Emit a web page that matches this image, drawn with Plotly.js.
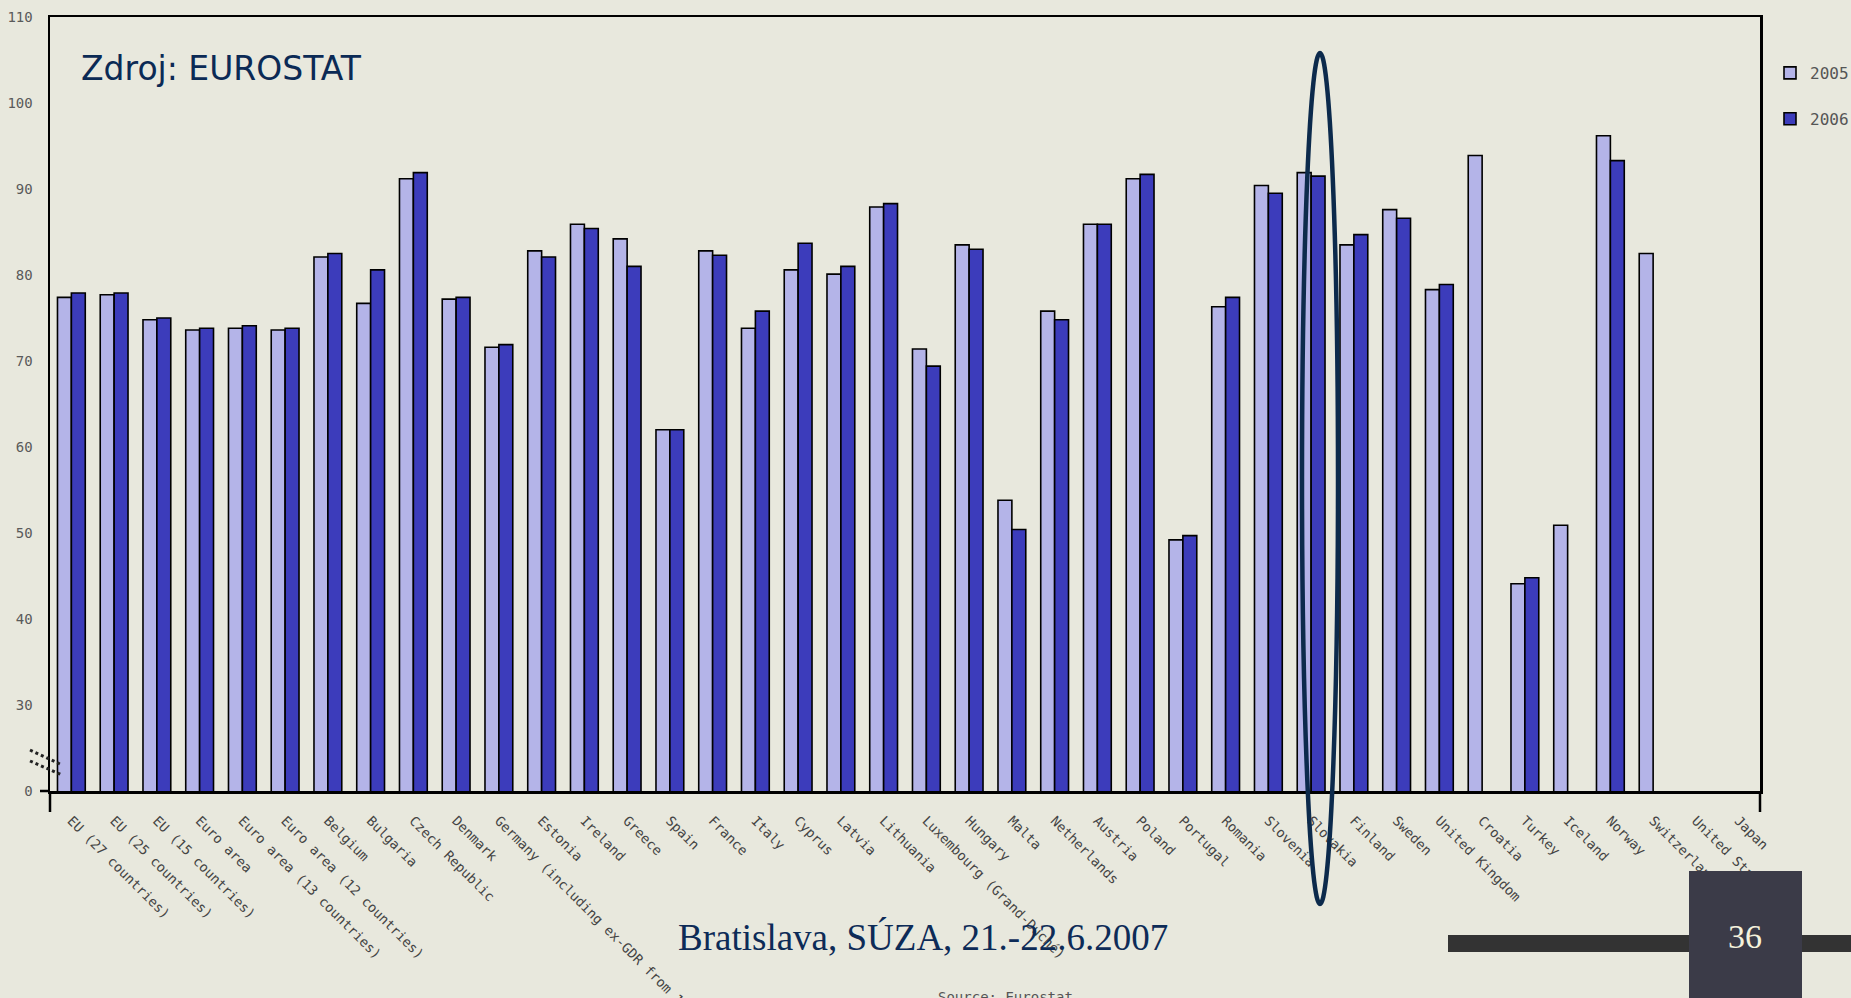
<!DOCTYPE html>
<html>
<head>
<meta charset="utf-8">
<script src="https://cdn.plot.ly/plotly-3.0.1.min.js"></script>
<style>
  html, body { margin: 0; padding: 0; background: #e8e8dd; overflow: hidden; }
  #chart { width: 1866px; height: 998px; }
</style>
</head>
<body>
<div id="chart"></div>
<script>
// ---- Data ----
const categories = [
  "EU (27 countries)", "EU (25 countries)", "EU (15 countries)", "Euro area",
  "Euro area (13 countries)", "Euro area (12 countries)", "Belgium", "Bulgaria",
  "Czech Republic", "Denmark", "Germany (including ex-GDR from 1991)", "Estonia",
  "Ireland", "Greece", "Spain", "France", "Italy", "Cyprus", "Latvia", "Lithuania",
  "Luxembourg (Grand-Duché)", "Hungary", "Malta", "Netherlands", "Austria", "Poland",
  "Portugal", "Romania", "Slovenia", "Slovakia", "Finland", "Sweden", "United Kingdom",
  "Croatia", "Turkey", "Iceland", "Norway", "Switzerland", "United States", "Japan"
];
const values2005 = [
  77.4, 77.7, 74.8, 73.6, 73.8, 73.6, 82.1, 76.7, 91.2, 77.2,
  71.6, 82.8, 85.9, 84.2, 62.0, 82.8, 73.8, 80.6, 80.1, 87.9,
  71.4, 83.5, 53.8, 75.8, 85.9, 91.2, 49.2, 76.3, 90.4, 91.9,
  83.5, 87.6, 78.3, 93.9, 44.1, 50.9, 96.2, 82.5, null, null
];
const values2006 = [
  77.9, 77.9, 75.0, 73.8, 74.1, 73.8, 82.5, 80.6, 91.9, 77.4,
  71.9, 82.1, 85.4, 81.0, 62.0, 82.3, 75.8, 83.7, 81.0, 88.3,
  69.4, 83.0, 50.4, 74.8, 85.9, 91.7, 49.7, 77.4, 89.5, 91.5,
  84.7, 86.6, 78.9, null, 44.8, null, 93.3, null, null, null
];
const seriesNames = ["2005", "2006"];
// broken y axis: the bottom tick stands for 0, the rest are real values
const yTickVals = [20, 30, 40, 50, 60, 70, 80, 90, 100, 110];
const yTickText = ["0", "30", "40", "50", "60", "70", "80", "90", "100", "110"];

// ---- Layout helpers (reference pixel -> paper) ----
// The captured frame is a little wider than the 1851px viewport, so the
// figure is laid out on that wider canvas with every x position scaled.
const CW = 1866;
const k = CW / 1851;
const W = CW, H = 998, L0 = 50, R0 = 1760, T = 17, B = 791;
const px = x => (x - L0) / (R0 - L0);
const py = y => (B - y) / (B - T);

const pixFont = "DejaVu Sans Mono, monospace";
const barLine = { color: "#000000", width: 1.6 };

const traces = [
  {
    type: "bar", name: seriesNames[0], x: categories, y: values2005,
    marker: { color: "#b4b4e8", line: barLine }, legendgroup: "a"
  },
  {
    type: "bar", name: seriesNames[1], x: categories, y: values2006,
    marker: { color: "#3c3cbb", line: barLine }, legendgroup: "b"
  }
];

const blk = { color: "#000000", width: 2.5 };
const shapes = [
  // axis extensions
  { type: "line", xref: "paper", yref: "paper", x0: px(40), x1: px(50), y0: py(791), y1: py(791), line: blk },
  { type: "line", xref: "paper", yref: "paper", x0: px(50), x1: px(50), y0: py(791), y1: py(812), line: blk },
  { type: "line", xref: "paper", yref: "paper", x0: px(1760), x1: px(1760), y0: py(791), y1: py(812), line: blk },
  // axis break marks
  { type: "line", xref: "paper", yref: "paper", x0: px(30), x1: px(62), y0: py(750), y1: py(765), line: { color: "#222", width: 3, dash: "dot" } },
  { type: "line", xref: "paper", yref: "paper", x0: px(30), x1: px(62), y0: py(761), y1: py(775), line: { color: "#222", width: 3, dash: "dot" } },
  // highlight ellipse round Slovakia
  { type: "circle", xref: "paper", yref: "paper", x0: px(1302), x1: px(1338), y0: py(904), y1: py(53), line: { color: "#0c2a4c", width: 4.5 }, layer: "above" },
  // footer band and page-number box
  { type: "rect", xref: "paper", yref: "paper", x0: px(1448), x1: px(1870), y0: py(935), y1: py(952), fillcolor: "#333333", line: { width: 0 }, layer: "above" },
  { type: "rect", xref: "paper", yref: "paper", x0: px(1689), x1: px(1802), y0: py(871), y1: py(1000), fillcolor: "#3b3b48", line: { width: 0 }, layer: "above" }
];

const annotations = [
  { xref: "paper", yref: "paper", x: px(79), y: py(68), xanchor: "left", yanchor: "middle", showarrow: false,
    text: "Zdroj: EUROSTAT", font: { family: "DejaVu Sans, sans-serif", size: 33, color: "#0b2a55" } },
  { xref: "paper", yref: "paper", x: px(923), y: py(937), xanchor: "center", yanchor: "middle", showarrow: false,
    text: "Bratislava, SÚZA, 21.-22.6.2007", font: { family: "Liberation Serif, serif", size: 37, color: "#0d2b57" } },
  { xref: "paper", yref: "paper", x: px(1745), y: py(936), xanchor: "center", yanchor: "middle", showarrow: false,
    text: "36", font: { family: "Liberation Serif, serif", size: 34, color: "#f5f2dc" } },
  { xref: "paper", yref: "paper", x: px(1005), y: py(987), xanchor: "center", yanchor: "top", showarrow: false,
    text: "Source: Eurostat", font: { family: pixFont, size: 14, color: "#555555" } }
];

const layout = {
  width: W, height: H,
  margin: { l: L0 * k, r: W - R0 * k, t: T, b: H - B, pad: 0 },
  paper_bgcolor: "#e8e8dd",
  plot_bgcolor: "#e8e8dd",
  barmode: "group",
  bargap: 0.35,
  bargroupgap: 0,
  showlegend: true,
  legend: {
    x: px(1770), y: py(56), xanchor: "left", yanchor: "top",
    bgcolor: "rgba(0,0,0,0)", borderwidth: 0,
    font: { family: pixFont, size: 16, color: "#555555" },
    traceorder: "grouped", tracegroupgap: 22
  },
  xaxis: {
    type: "category",
    showline: true, linecolor: "#000000", linewidth: 2.5, mirror: true,
    showgrid: false, zeroline: false,
    ticks: "", tickangle: 45,
    ticklabelstandoff: 14,
    tickfont: { family: pixFont, size: 13.5, color: "#444444" },
    automargin: false
  },
  yaxis: {
    range: [20, 110],
    tickmode: "array", tickvals: yTickVals, ticktext: yTickText,
    showline: true, linecolor: "#000000", linewidth: 2.5, mirror: true,
    showgrid: false, zeroline: false,
    ticks: "", ticklabelstandoff: 12,
    tickfont: { family: pixFont, size: 14, color: "#5a5a5a" },
    automargin: false
  },
  shapes: shapes,
  annotations: annotations
};

Plotly.newPlot("chart", traces, layout, { staticPlot: true, displayModeBar: false });
</script>
</body>
</html>
